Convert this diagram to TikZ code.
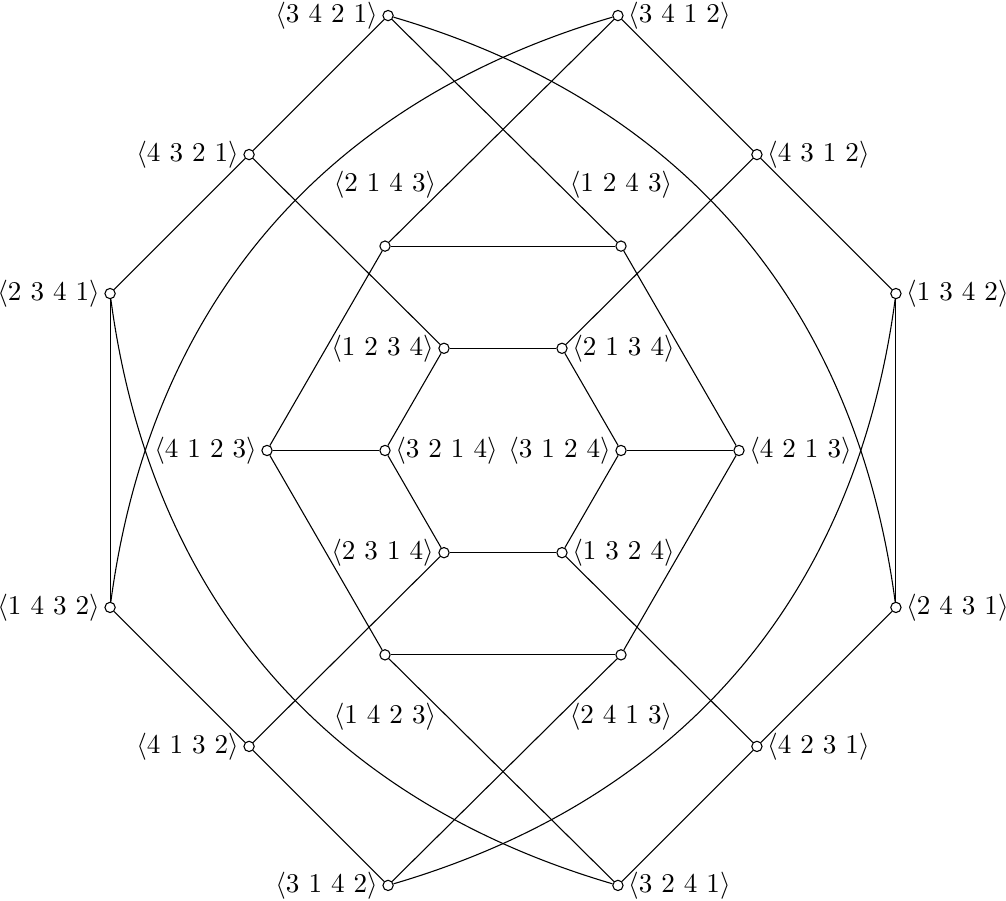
\documentclass[tikz,border=0pt]{standalone}
\usepackage{amsfonts,amssymb,amsmath}
\newcommand{\pr}[4]{\langle #1\ #2\ #3\ #4\rangle}

\begin{document}
\begin{tikzpicture}[x=1.53cm,y=1.53cm,
   v/.style={circle,draw,fill=white,inner sep=0pt,minimum size=3.8pt},
   every label/.style={inner sep=1.5pt},
   far/.style={label distance=14pt}]
   \useasboundingbox (-4.263,-3.818) rectangle (4.263,3.818);
   % inner hexagon
   \node[v,label=left:{$\pr1234$}]  (p1234) at (120:1) {};
   \node[v,label=right:{$\pr2134$}] (p2134) at (60:1) {};
   \node[v,label=left:{$\pr3124$}]  (p3124) at (0:1) {};
   \node[v,label=right:{$\pr1324$}] (p1324) at (-60:1) {};
   \node[v,label=left:{$\pr2314$}]  (p2314) at (-120:1) {};
   \node[v,label=right:{$\pr3214$}] (p3214) at (180:1) {};
   % middle hexagon
   \node[v,label={[far]above:{$\pr2143$}}] (p2143) at (120:2) {};
   \node[v,label={[far]above:{$\pr1243$}}] (p1243) at (60:2) {};
   \node[v,label=right:{$\pr4213$}]        (p4213) at (0:2) {};
   \node[v,label={[far]below:{$\pr2413$}}] (p2413) at (-60:2) {};
   \node[v,label={[far]below:{$\pr1423$}}] (p1423) at (-120:2) {};
   \node[v,label=left:{$\pr4123$}]         (p4123) at (180:2) {};
   % outer ring
   \node[v,label=left:{$\pr3421$}]  (p3421) at (-0.974,3.686) {};
   \node[v,label=left:{$\pr4321$}]  (p4321) at (-2.152,2.508) {};
   \node[v,label=left:{$\pr2341$}]  (p2341) at (-3.33,1.33) {};
   \node[v,label=left:{$\pr1432$}]  (p1432) at (-3.33,-1.33) {};
   \node[v,label=left:{$\pr4132$}]  (p4132) at (-2.152,-2.508) {};
   \node[v,label=left:{$\pr3142$}]  (p3142) at (-0.974,-3.686) {};
   \node[v,label=right:{$\pr3412$}] (p3412) at (0.974,3.686) {};
   \node[v,label=right:{$\pr4312$}] (p4312) at (2.152,2.508) {};
   \node[v,label=right:{$\pr1342$}] (p1342) at (3.33,1.33) {};
   \node[v,label=right:{$\pr2431$}] (p2431) at (3.33,-1.33) {};
   \node[v,label=right:{$\pr4231$}] (p4231) at (2.152,-2.508) {};
   \node[v,label=right:{$\pr3241$}] (p3241) at (0.974,-3.686) {};
   \path
   (p1234) edge (p2134)  (p2134) edge (p3124)  (p3124) edge (p1324)
   (p1324) edge (p2314)  (p2314) edge (p3214)  (p3214) edge (p1234)
   (p2143) edge (p1243)  (p1243) edge (p4213)  (p4213) edge (p2413)
   (p2413) edge (p1423)  (p1423) edge (p4123)  (p4123) edge (p2143)
   (p4123) edge (p3214)  (p4213) edge (p3124)
   (p3421) edge (p4321)  (p4321) edge (p2341)  (p2341) edge (p1432)
   (p1432) edge (p4132)  (p4132) edge (p3142)
   (p3412) edge (p4312)  (p4312) edge (p1342)  (p1342) edge (p2431)
   (p2431) edge (p4231)  (p4231) edge (p3241)
   (p3421) edge (p1243)  (p3412) edge (p2143)
   (p4321) edge (p1234)  (p4312) edge (p2134)
   (p4132) edge (p2314)  (p4231) edge (p1324)
   (p3142) edge (p2413)  (p3241) edge (p1423)
   (p3412) edge [bend right=33] (p1432)
   (p3421) edge [bend left=33]  (p2431)
   (p2341) edge [bend right=33] (p3241)
   (p1342) edge [bend left=33]  (p3142);
\end{tikzpicture}
\end{document}
